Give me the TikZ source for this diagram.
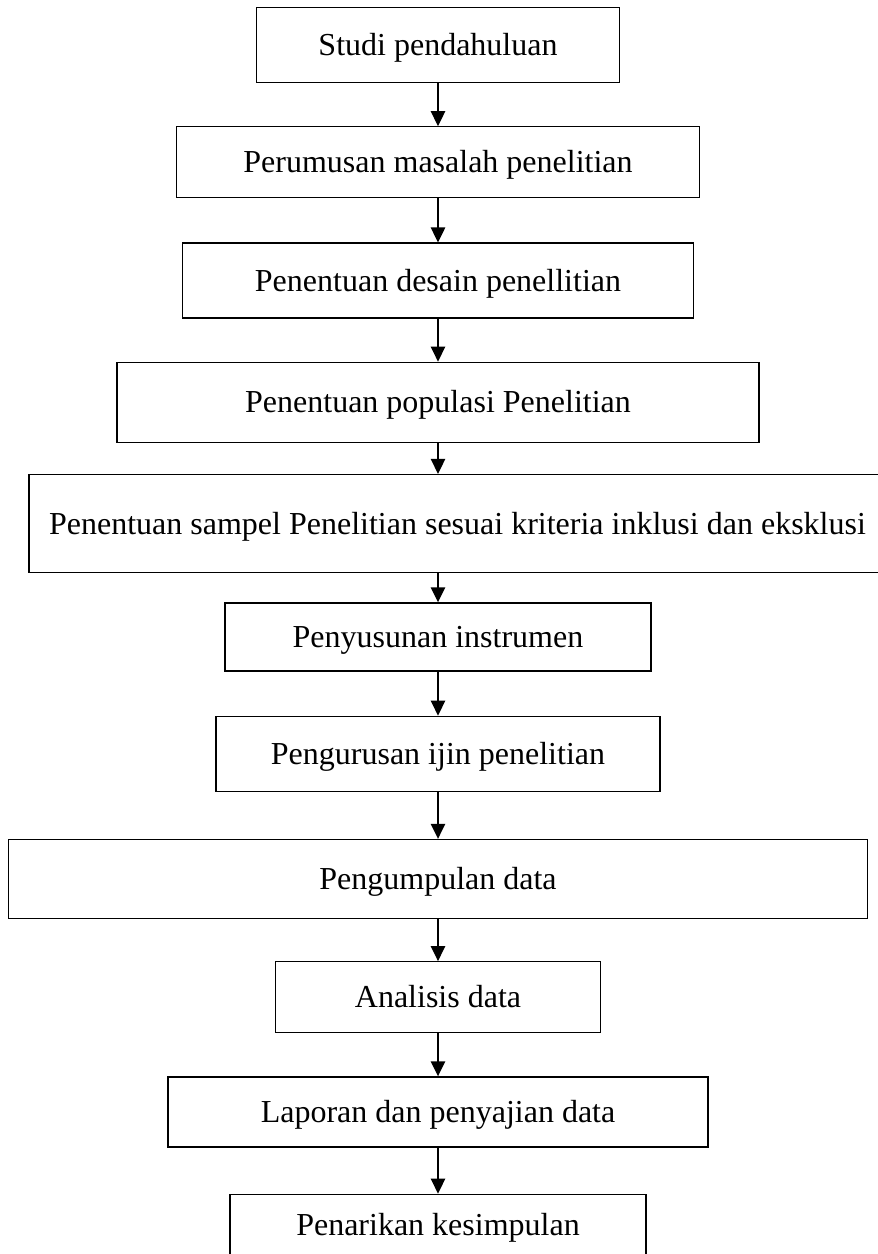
\documentclass[tikz,border=0pt]{standalone}
\usepackage{fontspec}
\setmainfont{Liberation Serif}
\usetikzlibrary{positioning, arrows.meta}

\begin{document}
\begin{tikzpicture}[
    stage/.style={draw, line width=0.5pt, rectangle, inner sep=0pt, text height=8pt, text depth=0pt, font=\fontsize{12pt}{14pt}\selectfont},
    flow/.style={-{Triangle[length=5.6pt, width=5.4pt]}, line width=0.5pt}
]

    % Page frame
    \useasboundingbox (0,0) rectangle (328.9pt,-470.25pt);

    % Research stages, top to bottom
    \node[stage, anchor=north, minimum width=136.1pt, minimum height=28.1pt] (s1) at (164.25pt,-2.6pt) {Studi pendahuluan};
    \node[stage, below=16.1pt of s1, minimum width=196.1pt, minimum height=26.6pt] (s2) {Perumusan masalah penelitian};
    \node[stage, below=16.5pt of s2, minimum width=191.6pt, minimum height=28.1pt] (s3) {Penentuan desain penellitian};
    \node[stage, below=16.1pt of s3, minimum width=240.8pt, minimum height=30pt] (s4) {Penentuan populasi Penelitian};

    % wide box, shifted right
    \node[stage, below=11.6pt of s4, xshift=7.3pt, minimum width=321.4pt, minimum height=36.75pt] (s5) {Penentuan sampel Penelitian sesuai kriteria inklusi dan eksklusi};
    \node[stage, below=10.9pt of s5, xshift=-7.3pt, minimum width=159.75pt, minimum height=25.5pt] (s6) {Penyusunan instrumen};

    \node[stage, below=16.5pt of s6, minimum width=166.5pt, minimum height=28.1pt] (s7) {Pengurusan ijin penelitian};
    \node[stage, below=17.6pt of s7, minimum width=322.1pt, minimum height=29.6pt] (s8) {Pengumpulan data};
    \node[stage, below=15.75pt of s8, minimum width=121.9pt, minimum height=26.6pt] (s9) {Analisis data};
    \node[stage, below=16.1pt of s9, minimum width=202.5pt, minimum height=26.25pt] (s10) {Laporan dan penyajian data};

    % last box runs off the page
    \node[stage, below=17.25pt of s10, minimum width=156pt, text height=15.4pt, text depth=14pt] (s11) {Penarikan kesimpulan};

    % Arrows
    \draw[flow] (s1) -- (s2);
    \draw[flow] (s2) -- (s3);
    \draw[flow] (s3) -- (s4);
    \draw[flow] (s4.south) -- (s4.south |- s5.north);
    \draw[flow] (s6.north |- s5.south) -- (s6.north);
    \draw[flow] (s6) -- (s7);
    \draw[flow] (s7) -- (s8);
    \draw[flow] (s8) -- (s9);
    \draw[flow] (s9) -- (s10);
    \draw[flow] (s10) -- (s11);

\end{tikzpicture}
\end{document}
